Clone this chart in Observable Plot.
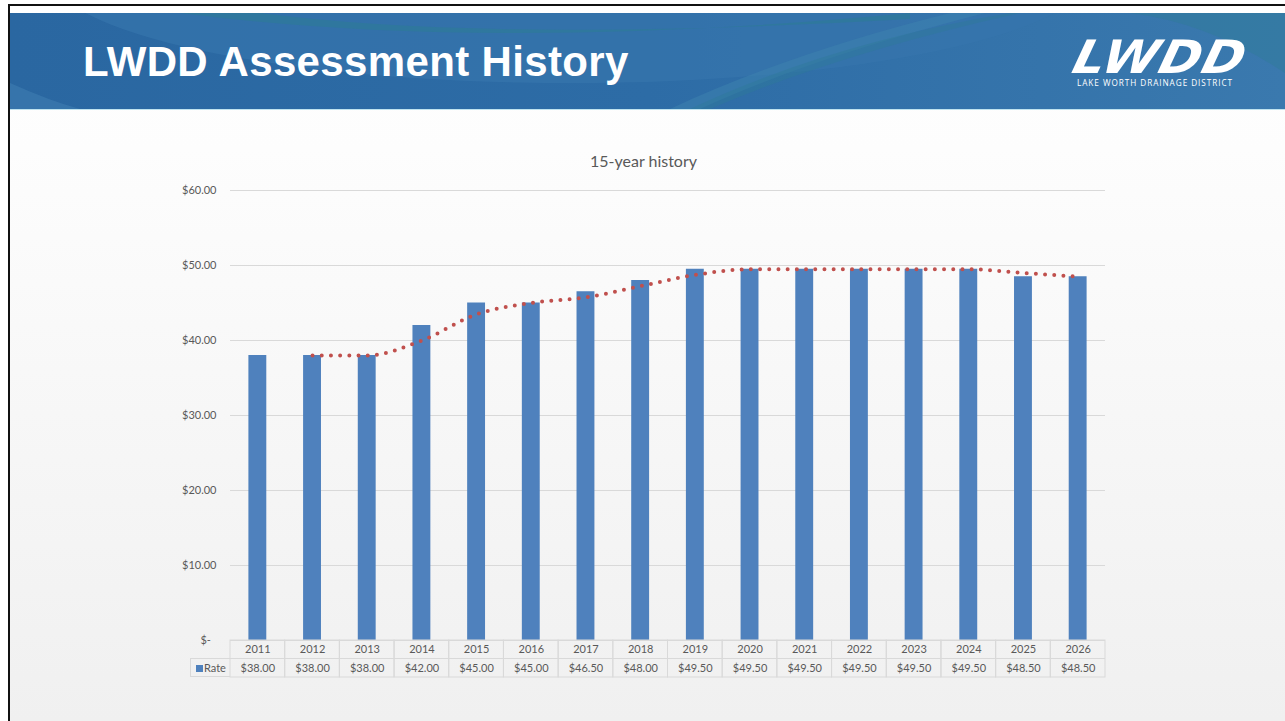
<!DOCTYPE html>
<html>
<head>
<meta charset="utf-8">
<script src="https://cdn.jsdelivr.net/npm/d3@7"></script>
<script src="https://cdn.jsdelivr.net/npm/@observablehq/plot@0.6"></script>
<style>
  html, body { margin: 0; padding: 0; }
  body { width: 1285px; height: 721px; position: relative; overflow: hidden; background: #fff; font-family: Lato, "Open Sans", sans-serif; }
  #frameTop { position: absolute; left: 8px; top: 4px; width: 1277px; height: 2px; background: #111; }
  #frameLeft { position: absolute; left: 8px; top: 4px; width: 2px; height: 717px; background: #111; }
  #slide { position: absolute; left: 10px; top: 6px; width: 1275px; height: 715px; background: linear-gradient(#ffffff 0%, #fdfdfd 20%, #f0f0f0 100%); }
  #banner { position: absolute; left: 10px; top: 13px; width: 1275px; height: 96px; overflow: hidden; }
  #bannerLine { position: absolute; left: 10px; top: 109px; width: 1275px; height: 1px; background: #bfe3ef; }
  #title { position: absolute; left: 83px; top: 38px; font-family: "Liberation Sans", Arial, sans-serif; font-weight: bold; font-size: 42px; color: #fff; letter-spacing: 0.35px; white-space: nowrap; }
  #logo { position: absolute; left: 1080px; top: 34px; font-family: "DejaVu Sans", sans-serif; font-weight: bold; font-style: italic; font-size: 46px; color: #fff; transform: skewX(-14deg) scaleX(1.1); transform-origin: left top; letter-spacing: 1px; white-space: nowrap; line-height: 1; }
  #logoSub { position: absolute; left: 1077px; top: 77px; font-family: "Open Sans", sans-serif; font-size: 8.2px; color: #fff; letter-spacing: 0.95px; white-space: nowrap; }
  #chartTitle { position: absolute; left: 0; width: 1287px; top: 151px; text-align: center; font-size: 16px; color: #595959; }
  #chart { position: absolute; left: 150px; top: 140px; }
  #legendCell { position: absolute; left: 190px; top: 658px; width: 40px; height: 19px; box-sizing: border-box; border: 1px solid #d9d9d9; border-right: none; font-size: 11px; color: #595959; }
  #legendCell .key { position: absolute; left: 5px; top: 6px; width: 7px; height: 7px; background: #4f81bd; }
  #legendCell .lab { position: absolute; left: 13px; top: 2px; }
</style>
</head>
<body>
<div id="slide"></div>
<div id="frameTop"></div>
<div id="frameLeft"></div>
<div id="banner">
  <svg width="1275" height="96" viewBox="0 0 1275 96">
    <defs>
      <linearGradient id="bg" x1="0" x2="1" y1="0" y2="0">
        <stop offset="0" stop-color="#2a67a1"/>
        <stop offset="0.5" stop-color="#2d6ca6"/>
        <stop offset="1" stop-color="#3a79ae"/>
      </linearGradient>
    </defs>
    <rect width="1275" height="96" fill="url(#bg)"/>
    <ellipse cx="560" cy="-40" rx="520" ry="110" fill="#3675ad" opacity="0.7"/>
    <path d="M 170 0 Q 480 40 900 0 L 900 6 Q 480 30 250 0 Z" fill="#2e7b99" opacity="0.7"/>
    <path d="M 0 70 Q 40 88 70 96 L 0 96 Z" fill="#3a78ae" opacity="0.8"/>
    <path d="M 660 96 Q 780 40 940 0 L 975 0 Q 800 45 690 96 Z" fill="#3e83b0" opacity="0.5"/>
    <path d="M 680 96 Q 820 30 1000 0 L 1010 0 Q 830 40 700 96 Z" fill="#2e7b99" opacity="0.45"/>
    <path d="M 1120 0 Q 1200 10 1275 60 L 1275 0 Z" fill="#2f7b9a" opacity="0.5"/>
  </svg>
</div>
<div id="bannerLine"></div>
<div id="title">LWDD Assessment History</div>
<div id="logo">LWDD</div>
<div id="logoSub">LAKE WORTH DRAINAGE DISTRICT</div>
<div id="chartTitle">15-year history</div>
<div id="chart"></div>
<div id="legendCell"><div class="key"></div><div class="lab">Rate</div></div>

<script>
// ---- data ----
const years = [2011, 2012, 2013, 2014, 2015, 2016, 2017, 2018, 2019, 2020, 2021, 2022, 2023, 2024, 2025, 2026];
const rates = [38.00, 38.00, 38.00, 42.00, 45.00, 45.00, 46.50, 48.00, 49.50, 49.50, 49.50, 49.50, 49.50, 49.50, 48.50, 48.50];
// dotted trendline (2-period moving average)
const trendYears = [2012, 2013, 2014, 2015, 2016, 2017, 2018, 2019, 2020, 2021, 2022, 2023, 2024, 2025, 2026];
const trendValues = [38.00, 38.00, 40.00, 43.50, 45.00, 45.75, 47.25, 48.75, 49.50, 49.50, 49.50, 49.50, 49.50, 49.00, 48.50];
const yTicks = [0, 10, 20, 30, 40, 50, 60];
const yTickLabels = ["$-\u00a0\u00a0", "$10.00", "$20.00", "$30.00", "$40.00", "$50.00", "$60.00"];
const seriesName = "Rate";

const bars = years.map((y, i) => ({year: y, rate: rates[i]}));
const trend = trendYears.map((y, i) => ({year: y, value: trendValues[i]}));

const grey = "#595959";
const lineCol = "#d9d9d9";

const chart = Plot.plot({
  width: 970,
  height: 550,
  marginLeft: 80,
  marginRight: 15,
  marginTop: 50,
  marginBottom: 50,
  style: {background: "transparent", fontFamily: "Lato, 'Open Sans', sans-serif", fontSize: "11px", color: grey},
  x: {type: "band", domain: years, padding: 0, round: false, label: null},
  y: {domain: [0, 60], label: null},
  marks: [
    Plot.gridY(yTicks.filter(d => d > 0), {stroke: lineCol, strokeOpacity: 1}),
    Plot.axisY(yTicks, {tickSize: 0, tickPadding: 14, fontSize: 11, fill: grey, tickFormat: d => yTickLabels[yTicks.indexOf(d)], label: null}),
    Plot.barY(bars, {x: "year", y: "rate", fill: "#4f81bd", insetLeft: 18.4, insetRight: 18.4}),
    // data table cells
    Plot.barY(bars, {x: "year", y1: 0, y2: 0, insetBottom: -37, fill: "none", stroke: lineCol, strokeWidth: 1}),
    Plot.ruleY([0], {stroke: lineCol, dy: 18}),
    Plot.ruleY([0], {stroke: lineCol}),
    Plot.axisX({tickSize: 0, tickPadding: 5, fontSize: 11, fill: grey, label: null, tickFormat: d => String(d)}),
    Plot.text(bars, {x: "year", y: 0, text: d => "$" + d.rate.toFixed(2), dy: 28, fontSize: 11, fill: grey}),
    Plot.line(trend, {x: "year", y: "value", stroke: "#c0504d", strokeWidth: 4, strokeLinecap: "round", strokeDasharray: "0 9.2", curve: "monotone-x"})
  ]
});
document.getElementById("chart").appendChild(chart);
document.querySelector("#legendCell .lab").textContent = seriesName;
</script>
</body>
</html>
